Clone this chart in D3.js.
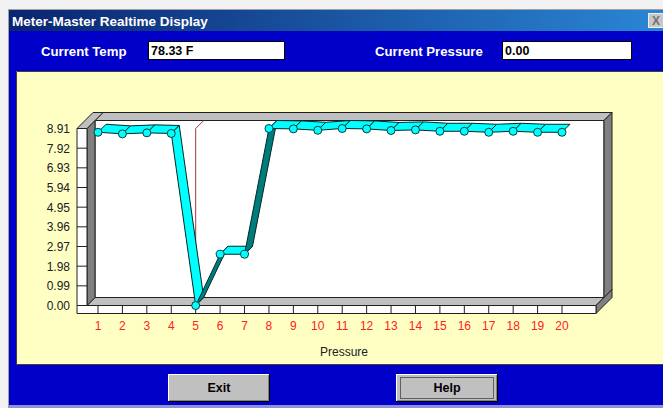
<!DOCTYPE html>
<html>
<head>
<meta charset="utf-8">
<script src="https://cdn.jsdelivr.net/npm/d3@7"></script>
<style>
  body { margin: 0; background: #f0f0f0; }
  svg { display: block; }
  text { font-family: "Liberation Sans", Arial, sans-serif; }
</style>
</head>
<body>
<div id="dataviz"></div>
<script>
// values
const categories = ["1", "2", "3", "4", "5", "6", "7", "8", "9", "10",
                    "11", "12", "13", "14", "15", "16", "17", "18", "19", "20"];
const pressure = [8.72, 8.64, 8.69, 8.66, 0.00, 2.58, 2.58, 8.91, 8.89, 8.82,
                  8.91, 8.89, 8.81, 8.84, 8.77, 8.77, 8.72, 8.77, 8.72, 8.72];
const yTicks = [0.00, 0.99, 1.98, 2.97, 3.96, 4.95, 5.94, 6.93, 7.92, 8.91];
const currentPoint = "5";
const currentTemp = "78.33 F";
const currentPressure = "0.00";

var width = 663, height = 408;

var svg = d3.select("#dataviz")
    .append("svg")
    .attr("width", width)
    .attr("height", height);

// window chrome
svg.append("rect").attr("x", 0).attr("y", 0).attr("width", width).attr("height", height).attr("fill", "#f2f2f2");
svg.append("line").attr("x1", 8.5).attr("x2", 8.5).attr("y1", 9).attr("y2", height).attr("stroke", "#a0a0a0");
svg.append("line").attr("x1", 8).attr("x2", width).attr("y1", 9.5).attr("y2", 9.5).attr("stroke", "#a0a0a0");

var defs = svg.append("defs");
var grad = defs.append("linearGradient").attr("id", "titleGrad");
grad.append("stop").attr("offset", "0%").attr("stop-color", "#0a2470");
grad.append("stop").attr("offset", "100%").attr("stop-color", "#2a86d4");

svg.append("rect").attr("x", 9).attr("y", 10).attr("width", width - 9).attr("height", 21).attr("fill", "url(#titleGrad)");
svg.append("text").attr("x", 12).attr("y", 25.5)
    .attr("fill", "#fff").attr("font-weight", "bold").attr("font-size", 13.5)
    .text("Meter-Master Realtime Display");

// close button (cut off at right edge)
svg.append("rect").attr("x", 648.5).attr("y", 13.5).attr("width", 18).attr("height", 14)
    .attr("fill", "#c8c8c8").attr("stroke", "#f0f0f0");
svg.append("text").attr("x", 652).attr("y", 25).attr("font-size", 12).attr("font-weight", "bold")
    .attr("fill", "#707070").text("X");

// blue body
svg.append("rect").attr("x", 9).attr("y", 31).attr("width", width - 9).attr("height", 375).attr("fill", "#0000c8");
svg.append("rect").attr("x", 9).attr("y", 405).attr("width", width - 9).attr("height", 3).attr("fill", "#9090d8");

// header fields
function field(label, lx, bx, bw, value) {
    svg.append("text").attr("x", lx).attr("y", 56)
        .attr("fill", "#fff").attr("font-weight", "bold").attr("font-size", 13.2)
        .text(label);
    svg.append("rect").attr("x", bx + 0.5).attr("y", 41.5).attr("width", bw).attr("height", 18)
        .attr("fill", "#fff").attr("stroke", "#000").attr("stroke-width", 1);
    svg.append("text").attr("x", bx + 3).attr("y", 55)
        .attr("fill", "#000").attr("font-weight", "bold").attr("font-size", 12.5)
        .text(value);
}
field("Current Temp", 41, 148, 136, currentTemp);
field("Current Pressure", 375, 502, 129, currentPressure);

// yellow chart panel
svg.append("rect").attr("x", 16).attr("y", 71).attr("width", width - 16).attr("height", 293).attr("fill", "#ffffc4");
svg.append("path").attr("d", "M16.5,364 V71.5 H" + width).attr("fill", "none").attr("stroke", "#404040");
svg.append("line").attr("x1", 16).attr("x2", width).attr("y1", 364.5).attr("y2", 364.5).attr("stroke", "#404040");

// scales
const x = d3.scalePoint().domain(categories).range([98, 562]);
const y = d3.scaleLinear().domain([0, 8.91]).range([305.5, 128.5]);

// 3D frame
const D = 8;            // ribbon / floor depth
const xL = 87, xR = 596, yB = y(0), yT = y(8.91);
const light = "#c0c0c0", dark = "#808080", edge = "#202020";
const frame = svg.append("g").attr("stroke", edge).attr("stroke-width", 1).attr("stroke-linejoin", "round");

function poly(pts, fill) {
    frame.append("polygon").attr("points", pts.map(p => p.join(",")).join(" ")).attr("fill", fill);
}

// back wall (front face at depth D, slab to 2D)
frame.append("rect").attr("x", xL + D).attr("y", yT - D).attr("width", xR - xL).attr("height", yB - yT).attr("fill", "#fff");
poly([[xL + D, yT - D], [xR + D, yT - D], [xR + 2 * D, yT - 2 * D], [xL + 2 * D, yT - 2 * D]], light);
poly([[xR + D, yT - D], [xR + 2 * D, yT - 2 * D], [xR + 2 * D, yB - 2 * D], [xR + D, yB - D]], dark);

// floor
poly([[xL, yB], [xR, yB], [xR + D, yB - D], [xL + D, yB - D]], light);
poly([[xR, yB], [xR + 2 * D, yB - 2 * D], [xR + 2 * D, yB - D], [xR, yB + D]], dark);
frame.append("rect").attr("x", 77).attr("y", yB).attr("width", xR - 77).attr("height", D).attr("fill", "#fff");
frame.selectAll(".xdiv")
    .data(categories)
    .enter().append("line")
    .attr("x1", d => x(d)).attr("x2", d => x(d))
    .attr("y1", yB).attr("y2", yB + D);

// left wall
poly([[xL, yT], [xL + D, yT - D], [xL + D, yB - D], [xL, yB]], dark);
frame.append("rect").attr("x", 77).attr("y", yT).attr("width", xL - 77).attr("height", yB - yT).attr("fill", "#fff");
poly([[77, yT], [xL, yT], [xL + 2 * D, yT - 2 * D], [77 + 2 * D, yT - 2 * D]], light);
frame.selectAll(".ydiv")
    .data(yTicks)
    .enter().append("line")
    .attr("x1", 77).attr("x2", xL)
    .attr("y1", d => y(d)).attr("y2", d => y(d));

// y tick labels
svg.selectAll(".ylab")
    .data(yTicks)
    .enter().append("text")
    .attr("x", 70).attr("y", d => y(d) + 4.5)
    .attr("text-anchor", "end").attr("font-size", 12).attr("fill", "#202020")
    .text(d => d.toFixed(2));

// x tick labels
svg.selectAll(".xlab")
    .data(categories)
    .enter().append("text")
    .attr("x", d => x(d)).attr("y", 330)
    .attr("text-anchor", "middle").attr("font-size", 12).attr("fill", "#ff2020")
    .text(d => d);

svg.append("text").attr("x", 344).attr("y", 356)
    .attr("text-anchor", "middle").attr("font-size", 12).attr("fill", "#202020")
    .text("Pressure");

// current position marker line
svg.append("polyline")
    .attr("points", [[x(currentPoint), yB], [x(currentPoint), yT], [x(currentPoint) + D, yT - D]].map(p => p.join(",")).join(" "))
    .attr("fill", "none").attr("stroke", "#a03838").attr("stroke-width", 1);

// ribbon
const pts = pressure.map((v, i) => [x(categories[i]), y(v)]);
const ribbon = svg.append("g");
for (let i = 0; i < pts.length - 1; i++) {
    const a = pts[i], b = pts[i + 1];
    const cross = (b[0] - a[0]) * (-D) - (b[1] - a[1]) * D;
    ribbon.append("polygon")
        .attr("points", [a, b, [b[0] + D, b[1] - D], [a[0] + D, a[1] - D]].map(p => p.join(",")).join(" "))
        .attr("fill", cross < 0 ? "#00ffff" : "#007c7c")
        .attr("stroke", "#002828").attr("stroke-width", 1).attr("stroke-linejoin", "round");
}
ribbon.selectAll("circle")
    .data(pts)
    .enter().append("circle")
    .attr("cx", d => d[0]).attr("cy", d => d[1]).attr("r", 4)
    .attr("fill", "#00ffff").attr("stroke", "#004040").attr("stroke-width", 1);

// buttons
function button(label, bx, focused) {
    const g = svg.append("g");
    g.append("rect").attr("x", bx).attr("y", 374).attr("width", 102).attr("height", 28).attr("fill", "#000");
    g.append("rect").attr("x", bx).attr("y", 374).attr("width", 101).attr("height", 27).attr("fill", "#fff");
    g.append("rect").attr("x", bx + 1).attr("y", 375).attr("width", 100).attr("height", 26).attr("fill", "#808080");
    g.append("rect").attr("x", bx + 1).attr("y", 375).attr("width", 99).attr("height", 25).attr("fill", "#c0c0c0");
    if (focused) {
        g.append("rect").attr("x", bx + 4.5).attr("y", 377.5).attr("width", 93).attr("height", 21)
            .attr("fill", "none").attr("stroke", "#000").attr("stroke-dasharray", "1,1");
    }
    g.append("text").attr("x", bx + 51).attr("y", 392)
        .attr("text-anchor", "middle").attr("font-weight", "bold").attr("font-size", 12.5)
        .text(label);
}
button("Exit", 168, false);
button("Help", 396, true);
</script>
</body>
</html>
